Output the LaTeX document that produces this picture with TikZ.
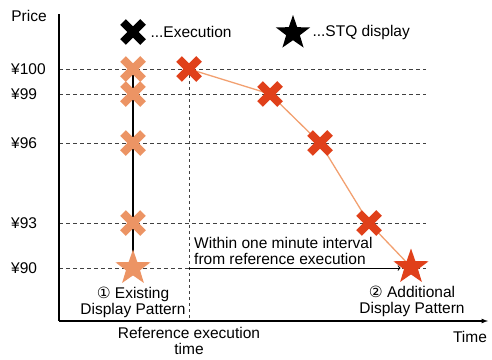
\documentclass[tikz,border=0pt]{standalone}
\usepackage{fontspec}
\setmainfont{Liberation Sans}
\newfontfamily\circfont{DejaVu Sans}
\usetikzlibrary{shapes.misc,shapes.geometric,backgrounds}
\definecolor{oldorange}{HTML}{EC9464}
\definecolor{newred}{HTML}{E0401A}
\definecolor{trendorange}{HTML}{F2A070}
\tikzset{
  xmark/.style={cross out, draw=#1, line width=8pt, minimum size=12pt, inner sep=0pt},
  starmark/.style={star, star points=5, star point ratio=2.5, fill=#1, inner sep=0pt, minimum size=37pt},
  grid/.style={dash pattern=on 4pt off 3pt, black!75, line width=0.8pt},
  axis/.style={line width=1.2pt, black},
}
\begin{document}
\begin{tikzpicture}[x=1pt,y=-1pt,font=\fontsize{15.5}{16}\selectfont]
\useasboundingbox (0,0) rectangle (492,359);
\coordinate (O) at (59,321);
\foreach \y/\p in {69/100,94/99,143/96,223/93,268/90} % price levels
{
  \draw[grid] (59,\y) -- (426,\y);
  \node[anchor=west, inner sep=0pt] (p\p) at (11,\y) {¥\p};
}
\draw[axis] (59,14) -- (O);
\draw[axis, -latex] (O) -- (488,321);
\node (price) at (29,16) {Price};
\node (time) at (470,337) {Time};
% legend
\node[xmark=black] (legx) at (133,32) {};
\node[anchor=west] (legxt) at (147,32) {...Execution};
\node[starmark=black, minimum size=36pt] (legs) at (293,33) {};
\node[anchor=west] (legst) at (309,32) {...STQ display};
% existing pattern
\node[xmark=oldorange] (e100) at (133,69) {};
\node[xmark=oldorange] (e99) at (133,94) {};
\node[xmark=oldorange] (e96) at (133,143) {};
\node[xmark=oldorange] (e93) at (133,223) {};
\node[starmark=oldorange] (e90) at (133,268) {};
% additional pattern
\node[xmark=newred] (r100) at (189,69) {};
\node[xmark=newred] (r99) at (270,94) {};
\node[xmark=newred] (r96) at (320,143) {};
\node[xmark=newred] (r93) at (369,223) {};
\node[starmark=newred] (r90) at (411,267) {};
\begin{scope}[on background layer]
\draw[axis] (e100.center) -- (e90.center);
\draw[trendorange, line width=1.3pt] (r100.center) -- (r99.center) -- (r96.center) -- (r93.center) -- (r90.center);
\draw[grid, dash pattern=on 3pt off 3pt] (r100.center) -- (r100 |- O);
\end{scope}
\coordinate (ref) at (r100 |- p90);
\draw[->, line width=1pt] (ref) -- (ref -| r90.west);
\node[anchor=south west, align=left, inner sep=1pt, xshift=4pt, yshift=2.5pt] (within) at (ref) {Within one minute interval\\from reference execution};
\node[align=center] (pat1) at (133,302) {{\circfont ①} Existing\\Display Pattern};
\node[align=center] (pat2) at (412,301) {{\circfont ②} Additional\\Display Pattern};
\node[align=center] (reft) at (189,341) {Reference execution\\time};
\end{tikzpicture}
\end{document}
